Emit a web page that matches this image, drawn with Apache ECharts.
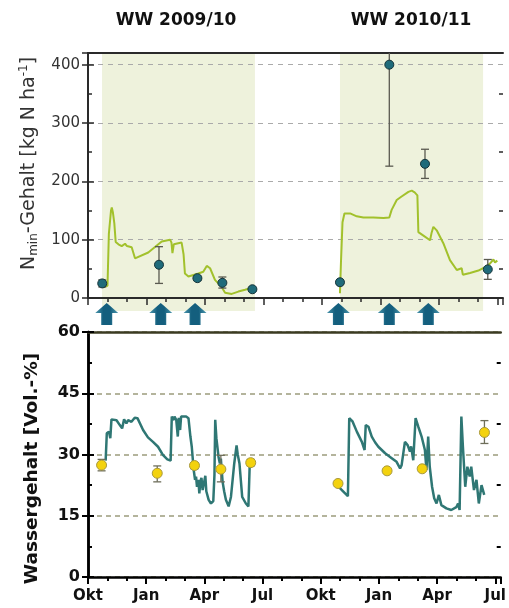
<!DOCTYPE html>
<html><head><meta charset="utf-8">
<script src="https://cdn.jsdelivr.net/npm/echarts@6/dist/echarts.min.js"></script>
<style>html,body{margin:0;padding:0;background:#fff}#c{width:509px;height:608px}</style>
</head><body><div id="c"></div>
<script>
// x values: months since 1 Oct 2009
const monthLabels = ['Okt','Jan','Apr','Jul','Okt','Jan','Apr','Jul'];
const majorMonths = [0,3,6,9,12,15,18,21];
const minorMonths = [1,2,4,5,7,8,10,11,13,14,16,17,19,20];
const xMax = 21.28;
const nminMinorTicks = [50,150,250,350];
const waterMinorTicks = [7.5,22.5,37.5,52.5];
const seasonTitles = ['WW 2009/10','WW 2010/11'];
const seasonBands = [[0.72, 8.56],[12.92, 20.26]];
const fertilization = [0.96, 3.73, 5.49, 12.84, 15.45, 17.45];

// Nmin simulated [month, kg N/ha]
const nminSim09 = [[0.78,19],[1.0,21],[1.07,110],[1.18,150],[1.22,155],[1.28,146],[1.35,128],[1.42,96],[1.56,92],[1.65,94],[1.73,89],[1.82,92],[1.9,93],[2.0,89],[2.07,88],[2.24,87],[2.41,68],[3.09,78],[3.78,97],[4.21,100],[4.28,95],[4.33,77],[4.4,92],[4.46,95],[4.8,95],[4.9,75],[4.97,42],[5.15,37],[5.66,42],[5.91,45],[6.09,55],[6.26,51],[6.51,31],[6.85,19],[7.03,9],[7.37,7],[7.71,11],[8.05,14],[8.48,18]];
const nminSim10 = [[12.92,8],[12.97,60],[13.05,130],[13.15,145],[13.23,146],[13.44,145],[13.78,140],[14.12,138],[14.63,138],[15.15,137],[15.45,138],[15.57,151],[15.83,168],[16.08,174],[16.43,182],[16.6,184],[16.75,181],[16.89,176],[16.94,113],[17.2,107],[17.54,99],[17.62,112],[17.71,122],[17.88,116],[18.22,94],[18.56,65],[18.91,48],[19.16,51],[19.22,40],[19.28,38],[19.59,43],[20.02,47],[20.36,53],[20.61,59],[20.79,66],[20.87,61],[20.99,64]];
// Nmin measured [month, mean, low, high]
const nminObs = [[0.73,25,19,31],[3.64,57,25,88],[5.61,34,30,37],[6.89,26,17,36],[8.43,15,12,18],
                 [12.92,27,23,31],[15.45,400,226,420],[17.28,230,205,255],[20.50,49,32,66]];

// Water content simulated [month, Vol.-%]
const water09 = [[0.91,28.5],[0.97,35.2],[1.08,35.6],[1.15,34.0],[1.21,38.6],[1.3,38.9],[1.47,38.4],[1.64,37.2],[1.76,36.4],[1.86,38.6],[1.98,37.6],[2.07,38.4],[2.24,38.0],[2.41,39.0],[2.55,38.9],[2.84,36.0],[3.09,34.2],[3.35,33.1],[3.61,31.9],[3.86,29.9],[4.09,28.8],[4.26,28.5],[4.32,39.3],[4.40,38.4],[4.46,39.3],[4.55,38.5],[4.63,34.4],[4.68,39.0],[4.75,36.0],[4.8,39.3],[4.89,39.3],[5.06,39.3],[5.18,38.9],[5.28,34.4],[5.35,31.9],[5.45,26.2],[5.52,23.8],[5.57,24.6],[5.62,22.1],[5.69,23.8],[5.74,20.5],[5.8,23.5],[5.85,24.3],[5.91,21.3],[6.0,21.2],[6.05,24.8],[6.1,21.0],[6.22,18.9],[6.34,18.0],[6.46,18.6],[6.52,25],[6.56,38.5],[6.62,34.0],[6.68,33.6],[6.73,29.4],[6.80,27.8],[6.85,29.0],[6.94,23.3],[7.02,21],[7.11,18.9],[7.25,17.3],[7.37,19.6],[7.54,27.8],[7.66,32.2],[7.72,30],[7.81,27.8],[7.95,19.6],[8.14,18.0],[8.27,17.3],[8.34,27.8],[8.39,28.6]];
const water10 = [[12.84,22.5],[13.09,21.3],[13.40,19.8],[13.47,38.9],[13.64,38.1],[13.86,35.6],[14.12,33.1],[14.26,31.1],[14.32,37.2],[14.46,36.8],[14.63,34.4],[14.80,33.0],[14.97,31.9],[15.32,30.3],[15.66,29.1],[15.91,28.2],[16.09,26.6],[16.17,27.4],[16.34,33.1],[16.48,32.3],[16.60,30.7],[16.66,32],[16.77,28.6],[16.89,38.9],[17.03,36.8],[17.20,34.4],[17.37,31.1],[17.45,26.2],[17.54,34.4],[17.62,27.0],[17.74,22.1],[17.85,19.3],[17.97,18.0],[18.09,20.1],[18.22,17.6],[18.48,16.8],[18.73,16.4],[18.99,17.1],[19.08,18.0],[19.16,16.4],[19.25,39.3],[19.33,31.9],[19.45,22.1],[19.56,27.0],[19.68,24.6],[19.76,27.0],[19.90,21.3],[20.03,23.8],[20.15,18.0],[20.29,22.5],[20.43,20.1]];
// Water content measured [month, mean, low, high]
const waterObs = [[0.70,27.4,26.0,28.8],[3.57,25.4,23.3,27.2],[5.49,27.3,26.5,28.0],[6.85,26.4,23.3,29.8],[8.39,28.0,27.2,28.8],
                  [12.89,22.9,22.3,23.5],[15.42,26.0,25.5,26.5],[17.23,26.5,26.0,27.0],[20.44,35.4,32.7,38.3]];

const FONT = 'DejaVu Sans';
const chart = echarts.init(document.getElementById('c'), null, {renderer:'canvas'});

function errorBars(color){
  return function(params, api){
    const x = api.value(0);
    const lo = api.coord([x, api.value(2)]);
    const hi = api.coord([x, api.value(3)]);
    const c = params.coordSys;
    const top = Math.max(hi[1], c.y);
    const style = {stroke: color, lineWidth: 1.3};
    const w = 4;
    const children = [{type:'line', shape:{x1:lo[0], y1:lo[1], x2:hi[0], y2:top}, style}];
    children.push({type:'line', shape:{x1:lo[0]-w, y1:lo[1], x2:lo[0]+w, y2:lo[1]}, style});
    if (hi[1] >= c.y) children.push({type:'line', shape:{x1:hi[0]-w, y1:hi[1], x2:hi[0]+w, y2:hi[1]}, style});
    return {type:'group', children};
  };
}

const G = {left:88, width:415};
const axisCol = '#2a2a2a';
const xBase = (grid, opts) => Object.assign({
  type:'value', gridIndex:grid, min:0, max:xMax, z:1,
  splitLine:{show:false}, axisLabel:{show:false}, axisTick:{show:false},
  axisLine:{show:true, onZero:false, lineStyle:{color:axisCol, width:2}}
}, opts);
const yFrame = (grid, pos, min, max, interval, color, w, ticks, opts) => Object.assign({
  type:'value', gridIndex:grid, position:pos, min, max, interval, z:1,
  axisLine:{show:true, lineStyle:{color, width:w}},
  axisTick:{show:true, inside:true, length:6, lineStyle:{color, width:w-0.5}},
  axisLabel:{show:false}, splitLine:{show:false}
}, opts);
const yMinor = (grid, pos, min, max, color, w, vals) => ({
  type:'value', gridIndex:grid, position:pos, min, max, z:1,
  axisLine:{show:false}, axisLabel:{show:false}, splitLine:{show:false},
  axisTick:{show:true, inside:false, length:-4, customValues:vals, lineStyle:{color, width:w}}
});

const option = {
  animation:false,
  title: [
    {text:seasonTitles[0], left:176, top:12, textAlign:'center', padding:0,
     textStyle:{fontFamily:FONT, fontSize:17, fontWeight:'bold', color:'#111'}},
    {text:seasonTitles[1], left:411, top:12, textAlign:'center', padding:0,
     textStyle:{fontFamily:FONT, fontSize:17, fontWeight:'bold', color:'#111'}}
  ],
  grid: [
    {left:G.left, width:G.width, top:53, height:245},
    {left:G.left, width:G.width, top:53, height:258},
    {left:G.left, width:G.width, top:299, height:30},
    {left:G.left, width:G.width, top:332, height:245}
  ],
  xAxis: [
    xBase(0, {position:'bottom', axisTick:{show:true, customValues:majorMonths.concat([xMax]), length:7, lineStyle:{color:axisCol, width:1.5}}}),
    xBase(0, {position:'bottom', axisLine:{show:false}, axisTick:{show:true, customValues:minorMonths, length:4, lineStyle:{color:axisCol, width:1.5}}}),
    xBase(0, {position:'top', axisLine:{show:true, onZero:false, lineStyle:{color:axisCol, width:2}}}),
    xBase(1, {show:false}),
    xBase(2, {show:false}),
    xBase(3, {position:'bottom',
      axisLine:{show:true, onZero:false, lineStyle:{color:'#000', width:2.5}},
      axisTick:{show:true, customValues:majorMonths.concat([xMax]), length:7, lineStyle:{color:'#000', width:2}},
      axisLabel:{show:true, customValues:majorMonths, margin:12, fontFamily:FONT, fontSize:15, fontWeight:'bold', color:'#111',
        formatter:(v)=>monthLabels[Math.round(v/3)]}}),
    xBase(3, {position:'bottom', axisLine:{show:false}, axisTick:{show:true, customValues:minorMonths, length:4, lineStyle:{color:'#000', width:2}}}),
    xBase(3, {position:'top', axisLine:{show:true, onZero:false, lineStyle:{color:'#3b3b22', width:2.5}}})
  ],
  yAxis: [
    yFrame(0, 'left', 0, 420, 100, axisCol, 2, null, {
      axisLabel:{show:true, fontFamily:FONT, fontSize:15, color:'#333', margin:8, formatter:(v)=> (v%100===0 && v<=400) ? String(v) : ''},
      splitLine:{show:true, lineStyle:{color:'#aaaaaa', type:[5,5], width:1}},
      name:'{n|N}{s|min}{n|-Gehalt [kg N ha}{p|-1}{n|]}', nameLocation:'middle', nameGap:48,
      nameTextStyle:{padding:[0,0,0,24], rich:{
        n:{fontFamily:FONT, fontSize:19, color:'#333', lineHeight:22},
        s:{fontFamily:FONT, fontSize:12, color:'#333', lineHeight:12, verticalAlign:'bottom'},
        p:{fontFamily:FONT, fontSize:12, color:'#333', lineHeight:12, verticalAlign:'top'}}}}),
    yFrame(0, 'right', 0, 420, 100, axisCol, 2),
    yMinor(0, 'left', 0, 420, axisCol, 1.5, nminMinorTicks),
    yMinor(0, 'right', 0, 420, axisCol, 1.5, nminMinorTicks),
    {type:'value', gridIndex:1, min:0, max:1, show:false},
    {type:'value', gridIndex:2, min:0, max:1, show:false},
    yFrame(3, 'left', 0, 60, 15, '#000', 2.5, null, {
      axisLabel:{show:true, fontFamily:FONT, fontSize:16, fontWeight:'bold', color:'#111', margin:8},
      splitLine:{show:true, lineStyle:{color:'#9c9c7c', type:[5,4], width:1.5}},
      name:'Wassergehalt [Vol.-%]', nameLocation:'middle', nameGap:46,
      nameTextStyle:{fontFamily:FONT, fontSize:18.5, fontWeight:'bold', color:'#111', padding:[0,28,0,0]}}),
    yFrame(3, 'right', 0, 60, 15, '#000', 2.5),
    yMinor(3, 'left', 0, 60, '#000', 2, waterMinorTicks),
    yMinor(3, 'right', 0, 60, '#000', 2, waterMinorTicks)
  ],
  series: [
    {type:'custom', xAxisIndex:3, yAxisIndex:4, z:0, silent:true, data:seasonBands,
     renderItem:(params, api)=>{
       const a = api.coord([api.value(0), 1]);
       const b = api.coord([api.value(1), 0]);
       return {type:'rect', shape:{x:a[0], y:a[1], width:b[0]-a[0], height:b[1]-a[1]}, style:{fill:'#eef2dc'}};
     }},
    {type:'line', xAxisIndex:0, yAxisIndex:0, data:nminSim09, showSymbol:false, lineStyle:{color:'#a2c12c', width:2}, z:3},
    {type:'line', xAxisIndex:0, yAxisIndex:0, data:nminSim10, showSymbol:false, lineStyle:{color:'#a2c12c', width:2}, z:3},
    {type:'custom', xAxisIndex:0, yAxisIndex:0, data:nminObs, renderItem:errorBars('#5a5a50'), z:4},
    {type:'scatter', xAxisIndex:0, yAxisIndex:0, data:nminObs.map(d=>[d[0],d[1]]), symbolSize:9, z:5,
     itemStyle:{color:'#1f6b7a', borderColor:'#16343a', borderWidth:1, opacity:1}},
    {type:'scatter', xAxisIndex:4, yAxisIndex:5, data:fertilization.map(m=>[m,0.5]), z:5,
     symbol:'path://M11.5,0 L23,10 L17,10 L17,22 L6,22 L6,10 L0,10 Z', symbolSize:[23,22], symbolKeepAspect:false,
     itemStyle:{opacity:1, color:{type:'linear', x:0, y:0, x2:1, y2:0, colorStops:[
       {offset:0, color:'#4e98ae'},{offset:0.35, color:'#145f7e'},{offset:0.65, color:'#145f7e'},{offset:1, color:'#4e98ae'}]}}},
    {type:'line', xAxisIndex:5, yAxisIndex:6, data:water09, showSymbol:false, lineStyle:{color:'#2f7774', width:2.5}, z:3},
    {type:'line', xAxisIndex:5, yAxisIndex:6, data:water10, showSymbol:false, lineStyle:{color:'#2f7774', width:2.5}, z:3},
    {type:'custom', xAxisIndex:5, yAxisIndex:6, data:waterObs, renderItem:errorBars('#6e6e5a'), z:4},
    {type:'scatter', xAxisIndex:5, yAxisIndex:6, data:waterObs.map(d=>[d[0],d[1]]), symbolSize:10, z:5,
     itemStyle:{color:'#f3d20e', borderColor:'#a8983c', borderWidth:1, opacity:1}}
  ]
};
chart.setOption(option);
</script>
</body></html>
